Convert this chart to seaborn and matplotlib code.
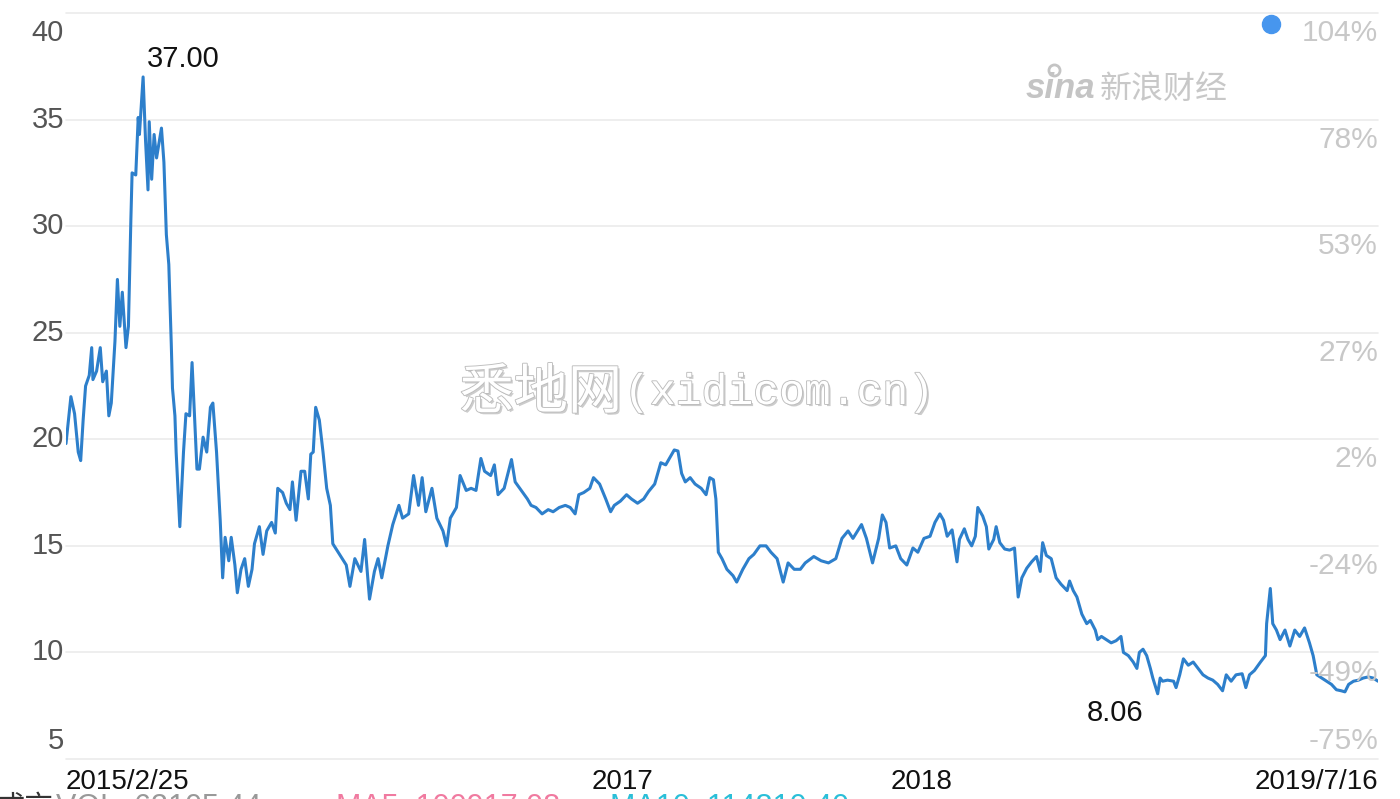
import numpy as np
import pandas as pd
import matplotlib
matplotlib.use("Agg")
import matplotlib.pyplot as plt
import matplotlib.patheffects as pe
from matplotlib.lines import Line2D
from matplotlib.transforms import blended_transform_factory
import seaborn as sns

# ---- data (trading-day index since 2015/2/25, closing price) ----
trade_day = [0, 4, 7, 10, 12, 14, 16, 19, 21, 22, 25, 28, 30, 33, 35, 37, 40, 42, 44, 46,
             49, 51, 53, 54, 57, 59, 60, 63, 65, 67, 68, 70, 72, 74, 78, 80, 82, 84, 86, 87,
             89, 90, 93, 96, 98, 101, 103, 107, 109, 112, 115, 118, 120, 123, 126, 128, 130, 133, 135, 138,
             140, 143, 146, 149, 152, 154, 158, 161, 164, 168, 171, 173, 177, 180, 183, 185, 188, 192, 195, 198,
             200, 202, 204, 207, 210, 213, 216, 218,
             229, 232, 236, 241, 244, 248, 252, 255, 258, 263, 267, 272, 275, 280, 284, 288, 291, 294, 299, 303,
             308, 311, 314, 319, 322, 327, 331, 335, 339, 342, 347, 350, 353, 358, 364, 367, 372, 377, 380, 384,
             389, 394, 398, 403, 408, 412, 416, 419, 423, 428, 431, 436, 441, 445, 448, 453, 458, 462, 467, 472,
             476, 481, 486, 490, 494, 497, 500, 503, 506, 510, 514, 519, 523, 526, 529, 531, 533, 536, 540, 545,
             548, 553, 558, 562, 567, 572, 576, 581, 586, 590, 595, 600, 604, 611, 617, 623, 629, 634, 639, 643,
             650, 654, 659, 664, 667, 670, 673, 678, 682, 687, 692, 696, 701,
             706, 710, 714, 717, 720, 724, 728, 730, 734, 737, 740, 743, 745, 749, 752, 754, 758, 760, 763, 767,
             771, 775, 778, 781, 785, 789, 793, 796, 798, 801, 805, 809, 813, 818, 820, 823, 826, 830, 834, 837,
             841, 843, 846, 850, 854, 858, 862, 864, 868, 872, 875, 877, 880, 883, 886, 888, 892, 894, 896, 900,
             905, 907, 910, 913, 917, 921, 925, 929, 933, 937, 941, 945, 948, 952, 956, 961, 964, 967, 971, 976,
             980, 981, 984, 986, 989, 992, 996, 1000, 1004, 1008, 1012, 1016, 1019, 1022, 1026, 1030, 1034, 1038, 1042, 1045,
             1048, 1052, 1056, 1060, 1064, 1068, 1072]
close = [19.8, 22.0, 21.2, 19.4, 19.0, 20.9, 22.5, 23.0, 24.3, 22.8, 23.2, 24.3, 22.7, 23.2, 21.1, 21.7, 24.6, 27.5, 25.3, 26.9,
         24.3, 25.3, 30.3, 32.5, 32.4, 35.1, 34.3, 37.0, 34.0, 31.7, 34.9, 32.2, 34.3, 33.2, 34.6, 33.0, 29.6, 28.2, 24.5, 22.4,
         21.1, 19.4, 15.9, 19.4, 21.2, 21.1, 23.6, 18.6, 18.6, 20.1, 19.4, 21.5, 21.7, 19.4, 16.2, 13.5, 15.4, 14.3, 15.4, 14.1,
         12.8, 13.9, 14.4, 13.1, 13.9, 15.1, 15.9, 14.6, 15.7, 16.1, 15.6, 17.7, 17.5, 17.0, 16.7, 18.0, 16.2, 18.5, 18.5, 17.2,
         19.3, 19.4, 21.5, 20.9, 19.4, 17.7, 16.9, 15.1,
         14.1, 13.1, 14.4, 13.8, 15.3, 12.5, 13.8, 14.4, 13.5, 15.0, 16.0, 16.9, 16.3, 16.5, 18.3, 16.9, 18.2, 16.6, 17.7, 16.3,
         15.7, 15.0, 16.3, 16.8, 18.3, 17.6, 17.7, 17.6, 19.1, 18.5, 18.3, 18.8, 17.4, 17.7, 19.05, 18.0, 17.6, 17.2, 16.9, 16.8,
         16.5, 16.7, 16.6, 16.8, 16.9, 16.8, 16.5, 17.4, 17.5, 17.7, 18.2, 17.9, 17.2, 16.6, 16.9, 17.1, 17.4, 17.2, 17.0, 17.2,
         17.55, 17.9, 18.9, 18.8, 19.2, 19.5, 19.45, 18.4, 18.0, 18.2, 17.9, 17.7, 17.4, 18.2, 18.1, 17.2, 14.7, 14.4, 13.9, 13.6,
         13.3, 13.9, 14.4, 14.6, 15.0, 15.0, 14.7, 14.4, 13.3, 14.2, 13.9, 13.9, 14.2, 14.5, 14.3, 14.2, 14.4, 15.35, 15.7, 15.35,
         16.0, 15.35, 14.2, 15.35, 16.45, 16.1, 14.9, 15.0, 14.4, 14.1, 14.9, 14.7, 15.35,
         15.45, 16.1, 16.5, 16.2, 15.45, 15.75, 14.25, 15.3, 15.8, 15.3, 15.0, 15.45, 16.8, 16.4, 15.9, 14.85, 15.3, 15.9, 15.15, 14.85,
         14.8, 14.9, 12.6, 13.5, 13.95, 14.25, 14.5, 13.8, 15.15, 14.55, 14.4, 13.5, 13.2, 12.9, 13.35, 12.9, 12.6, 11.8, 11.35, 11.5,
         11.05, 10.6, 10.75, 10.6, 10.45, 10.55, 10.75, 10.0, 9.85, 9.55, 9.25, 10.0, 10.15, 9.85, 9.25, 8.8, 8.06, 8.8, 8.65, 8.7,
         8.65, 8.35, 8.95, 9.7, 9.4, 9.55, 9.25, 8.95, 8.8, 8.7, 8.5, 8.2, 8.95, 8.65, 8.95, 9.0, 8.35, 8.95, 9.15, 9.55,
         9.85, 11.35, 13.0, 11.35, 11.05, 10.6, 11.05, 10.3, 11.05, 10.75, 11.15, 10.45, 9.85, 8.95, 8.8, 8.65, 8.5, 8.25, 8.2, 8.15,
         8.5, 8.65, 8.7, 8.8, 8.85, 8.8, 8.65]

price_ticks = [5, 10, 15, 20, 25, 30, 35, 40]
pct_labels = ["-75%", "-49%", "-24%", "2%", "27%", "53%", "78%", "104%"]
x_tick_days = [0, 455, 699, 1072]
x_tick_labels = ["2015/2/25", "2017", "2018", "2019/7/16"]

# ---- style ----
sns.set_theme(style="white")
plt.rcParams["font.family"] = ["Liberation Sans", "Noto Sans CJK SC", "DejaVu Sans"]

W, H = 1400, 799
fig = plt.figure(figsize=(W / 100, H / 100), dpi=100)
ax = fig.add_axes([66 / W, 40 / H, 1312 / W, 746 / H])

df = pd.DataFrame({"day": trade_day, "close": close})
sns.lineplot(data=df, x="day", y="close", ax=ax, color="#2d7fcb", linewidth=2.2,
             estimator=None, sort=False)

ax.set_xlim(0, 1072)
ax.set_ylim(5, 40)
for s in ax.spines.values():
    s.set_visible(False)
ax.set_xlabel("")
ax.set_ylabel("")

# y grid + labels
ax.set_yticks(price_ticks)
ax.tick_params(axis="y", length=0, labelleft=False)
ax.yaxis.grid(True, color="#ebebeb", linewidth=1.2)
for gl in ax.get_ygridlines():
    gl.set_clip_on(False)

tr = blended_transform_factory(ax.transAxes, ax.transData)
for v in price_ticks:
    if v == price_ticks[-1]:
        dy = -14.5
    elif v == price_ticks[0]:
        dy = 13
    else:
        dy = 0
    ax.annotate(str(v), (0.0, v), xycoords=tr, xytext=(-1.5, dy), textcoords="offset points",
                ha="right", va="center", fontsize=21, color="#555555", annotation_clip=False)

# right percentage labels (inside plot)
for v, lab in zip(price_ticks, pct_labels):
    dy = 13 if v == price_ticks[0] else -14.5
    ax.annotate(lab, (1.0, v), xycoords=tr, xytext=(0, dy), textcoords="offset points",
                ha="right", va="center", fontsize=21.5, color="#c8c8c8")

# x axis
ax.set_xticks(x_tick_days)
ax.set_xticklabels(x_tick_labels)
ax.tick_params(axis="x", length=0, pad=7, labelsize=20, labelcolor="#111111")
xl = ax.get_xticklabels()
xl[0].set_horizontalalignment("left")
xl[-1].set_horizontalalignment("right")
ax.set_xticks(x_tick_days[1:-1], minor=True)
ax.xaxis.grid(True, which="minor", color="#ebebeb", linewidth=1.2)
ax.xaxis.grid(False, which="major")
ax.tick_params(axis="x", which="minor", length=0)

# max / min annotations
arr = np.array(close)
imax, imin = int(arr.argmax()), int(arr.argmin())
ax.annotate(f"{arr[imax]:.2f}", (trade_day[imax], arr[imax]), xytext=(3, 13),
            textcoords="offset points", ha="left", va="center", fontsize=21, color="#111111")
ax.annotate(f"{arr[imin]:.2f}", (trade_day[imin], arr[imin]), xytext=(-10, -14),
            textcoords="offset points", ha="right", va="center", fontsize=21, color="#111111")

# blue legend dot
fig.add_artist(Line2D([1271 / W], [1 - 24 / H], marker="o", markersize=13, color="#4796ee",
                      linestyle="none", transform=fig.transFigure))

# sina watermark
fig.text(1026 / W, 1 - 89 / H, "sina", fontsize=25, fontweight="bold", style="italic",
         color="#c4c4c4", ha="left", va="center")
fig.add_artist(Line2D([1054 / W], [1 - 70 / H], marker="o", markersize=8, markerfacecolor="none",
                      markeredgecolor="#c4c4c4", markeredgewidth=2, linestyle="none",
                      transform=fig.transFigure))
fig.text(1100 / W, 1 - 89 / H, "新浪财经", fontsize=23, color="#c8c8c8", ha="left", va="center",
         family=["Noto Sans CJK SC", "DejaVu Sans"])

# site watermark
effects = [pe.SimplePatchShadow(offset=(1.5, -1.5), shadow_rgbFace="#9a9a9a", alpha=0.5),
           pe.Stroke(linewidth=1.3, foreground="#bdbdbd"), pe.Normal()]
fig.text(622 / W, 1 - 393 / H, "悉地网", fontsize=39, color="white", ha="right", va="center",
         family=["Noto Sans CJK SC", "DejaVu Sans"], path_effects=effects)
fig.text(624 / W, 1 - 393 / H, "(xidicom.cn)", fontsize=31, color="white", ha="left", va="center",
         family=["Liberation Mono", "DejaVu Sans Mono"], path_effects=effects)

# volume line at the very bottom (cut off by the picture edge, as in the reference)
bottom_y = 1 - 793 / H
fig.text(-4 / W, bottom_y, "成交", fontsize=21, color="#333333", ha="left", va="top",
         family=["Noto Sans CJK SC", "DejaVu Sans"])
fig.text(56 / W, bottom_y, "VOL: 63105.44", fontsize=22, color="#999999", ha="left", va="top")
fig.text(336 / W, bottom_y, "MA5: 100917.08", fontsize=22, color="#f07aa0", ha="left", va="top")
fig.text(610 / W, bottom_y, "MA10: 114810.40", fontsize=22, color="#2bbfd8", ha="left", va="top")

fig.savefig("out.png", dpi=100)
